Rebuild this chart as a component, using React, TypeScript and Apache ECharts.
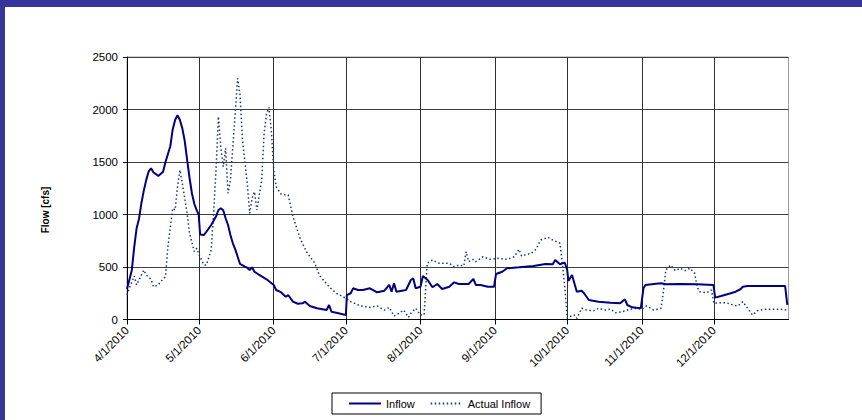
import React, { useEffect, useRef } from "react";
import * as echarts from "echarts";

// Day offsets counted from 4/1/2010
const tickLabels = ["4/1/2010", "5/1/2010", "6/1/2010", "7/1/2010", "8/1/2010", "9/1/2010", "10/1/2010", "11/1/2010", "12/1/2010"];

const inflowDays = [0, 2, 3, 4, 5, 6, 7, 8, 9, 10, 11, 12, 13, 15, 16, 18, 19, 20, 21, 22, 23, 24, 25, 26, 27, 28, 29, 29.8, 30.4, 32, 33, 35, 37, 38, 39, 40, 41, 42, 43, 44, 45, 46, 47, 49, 50, 51, 52, 53, 55, 58, 61, 62, 64, 66, 67, 69, 71, 73, 74, 76, 79, 83, 84, 85, 87, 91, 91.4, 93, 94, 96, 98, 101, 104, 107, 109, 110, 111, 112, 116, 118, 119, 120, 122, 123, 125, 127, 129, 131, 134, 136, 138, 142, 144, 145, 147, 150, 152.6, 153.4, 156, 158, 163, 169, 174, 177, 178, 180, 181, 182, 183, 183.5, 185, 187, 189, 190, 192, 196, 201, 205, 207, 208, 210, 213.6, 214.7, 215.5, 219, 222, 224, 230, 237, 243.8, 244.5, 247, 251, 253, 255, 256, 258, 266, 273.6, 274.5];
const inflowValues = [290, 470, 690, 870, 960, 1110, 1230, 1330, 1410, 1440, 1400, 1385, 1367, 1408, 1500, 1650, 1810, 1900, 1945, 1900, 1820, 1700, 1520, 1350, 1200, 1100, 1040, 1000, 810, 805, 836, 900, 980, 1043, 1060, 1040, 964, 900, 805, 726, 668, 598, 529, 503, 493, 471, 497, 455, 424, 383, 329, 281, 260, 217, 233, 170, 150, 154, 170, 129, 107, 90, 138, 74, 65, 43, 233, 250, 297, 281, 281, 297, 259, 274, 329, 265, 345, 265, 281, 376, 392, 297, 312, 414, 376, 307, 338, 290, 312, 354, 338, 338, 386, 329, 329, 312, 312, 433, 455, 488, 497, 510, 529, 526, 567, 526, 535, 541, 471, 367, 424, 265, 274, 250, 186, 170, 160, 154, 192, 138, 116, 107, 297, 329, 338, 345, 335, 338, 335, 329, 208, 224, 250, 265, 288, 312, 319, 319, 319, 140];

const actualDays = [0, 1, 3, 4, 5, 7, 8, 10, 11, 13, 14, 16, 17, 19, 20, 21, 22, 23, 25, 26, 28, 29, 30, 32, 33, 35, 36, 37, 38, 39, 40, 41, 42, 43, 44, 46, 47, 48, 50, 51, 52, 53, 54, 56, 57, 58, 59, 60, 61, 62, 64, 66, 67, 69, 72, 75, 78, 80, 84, 87, 91, 93, 97, 101, 104, 107, 109, 111, 113, 115, 117, 118, 120, 122, 123.5, 124.8, 127, 129, 130, 134, 136, 138, 140, 141, 142, 144, 145, 148, 151, 154, 158, 161, 163, 164, 168, 170, 172, 175, 177, 180, 181, 182, 183, 184, 186, 187, 189, 191, 194, 196, 199, 201, 203, 206, 209, 212, 214, 216, 219, 222, 223, 224, 226, 228, 230, 232, 234, 236, 237, 238, 241, 243, 244, 247, 249, 252, 254, 256, 258, 260, 262, 265, 269, 272, 274.5];
const actualValues = [233, 300, 414, 329, 376, 471, 424, 383, 312, 329, 360, 408, 693, 1059, 1043, 1265, 1424, 1297, 1011, 821, 646, 678, 614, 519, 519, 662, 1011, 1424, 1932, 1646, 1455, 1630, 1202, 1329, 1646, 2297, 2138, 1710, 1297, 1011, 1154, 1217, 1043, 1329, 1773, 1960, 2020, 1800, 1424, 1265, 1195, 1186, 1186, 979, 770, 630, 540, 420, 312, 250, 202, 170, 129, 116, 129, 90, 116, 33, 59, 90, 21, 59, 107, 43, 43, 535, 567, 541, 535, 535, 503, 519, 510, 646, 551, 573, 551, 598, 573, 583, 573, 598, 668, 605, 630, 668, 757, 783, 757, 726, 535, 312, 11, 27, 43, 11, 107, 90, 84, 107, 90, 100, 65, 74, 97, 107, 97, 129, 90, 107, 265, 471, 519, 465, 488, 465, 488, 440, 312, 265, 255, 281, 154, 160, 160, 138, 129, 170, 107, 43, 84, 97, 97, 97, 90];

const startDate = new Date(2010, 3, 1);
const DAY = 86400000;
const dayOf = (s: string) => {
  const [m, d, y] = s.split("/").map(Number);
  return Math.round((new Date(y, m - 1, d).getTime() - startDate.getTime()) / DAY);
};
const tickDays = tickLabels.map(dayOf);
const endDay = dayOf("1/1/2011");

const FONT = "Liberation Sans, Arial, sans-serif";

export default function App() {
  const ref = useRef<HTMLDivElement>(null);
  useEffect(() => {
    if (!ref.current) return;
    const chart = echarts.init(ref.current, undefined, { renderer: "svg" });
    const labelFor = (v: number) => {
      const i = tickDays.indexOf(Math.round(v));
      return i >= 0 ? tickLabels[i] : "";
    };
    chart.setOption({
      animation: false,
      backgroundColor: "#ffffff",
      textStyle: { fontFamily: FONT },
      graphic: [
        { type: "rect", left: 0, top: 0, shape: { width: 862, height: 7 }, style: { fill: "#35359b" }, z: 100 },
        { type: "rect", left: 0, top: 0, shape: { width: 5, height: 420 }, style: { fill: "#35359b" }, z: 100 },
        {
          type: "text",
          x: 45,
          y: 210,
          rotation: Math.PI / 2,
          style: {
            text: "Flow [cfs]",
            fontFamily: FONT,
            fontSize: 10,
            fontWeight: "bold",
            fill: "#000",
            align: "center",
            verticalAlign: "middle",
          },
        },
      ],
      grid: {
        left: 127,
        top: 57,
        right: 73.5,
        bottom: 100.5,
        show: true,
        borderColor: "#a0a0a0",
        borderWidth: 1,
        backgroundColor: "transparent",
      },
      legend: {
        left: 332,
        top: 393,
        padding: [5, 11, 5, 16],
        itemWidth: 32,
        itemHeight: 10,
        itemGap: 15,
        borderColor: "#000",
        borderWidth: 1,
        backgroundColor: "#fff",
        itemStyle: { opacity: 0, borderWidth: 0 },
        textStyle: { fontFamily: FONT, fontSize: 11, color: "#000" },
        data: ["Inflow", "Actual Inflow"],
      },
      xAxis: {
        type: "value",
        min: 0,
        max: endDay,
        axisLine: { show: true, lineStyle: { color: "#000", width: 1 } },
        axisTick: { show: true, length: 5, inside: false, lineStyle: { color: "#000" }, customValues: tickDays },
        axisLabel: {
          customValues: tickDays,
          rotate: 45,
          margin: 9,
          fontFamily: FONT,
          fontSize: 11.5,
          color: "#000",
          formatter: (v: number) => labelFor(v),
        },
        splitLine: { show: true, lineStyle: { color: "#303030", width: 1 } },
      },
      yAxis: {
        type: "value",
        min: 0,
        max: 2500,
        interval: 500,
        axisLine: { show: true, lineStyle: { color: "#000", width: 1 } },
        axisTick: { show: true, length: 4, inside: false, lineStyle: { color: "#000" } },
        axisLabel: { margin: 9, fontFamily: FONT, fontSize: 11.5, color: "#000", formatter: (v: number) => String(v) },
        splitLine: { show: true, lineStyle: { color: "#404040", width: 1 } },
      },
      series: [
        {
          name: "Inflow",
          type: "line",
          symbol: "none",
          data: inflowDays.map((d, i) => [d, inflowValues[i]]),
          lineStyle: { color: "#000080", width: 2 },
          itemStyle: { color: "#000080" },
          z: 3,
        },
        {
          name: "Actual Inflow",
          type: "line",
          symbol: "none",
          data: actualDays.map((d, i) => [d, actualValues[i]]),
          lineStyle: { color: "#1c3580", width: 1.5, type: [1.5, 2.5] },
          itemStyle: { color: "#1c3580" },
          z: 2,
        },
      ],
    });
    return () => chart.dispose();
  }, []);
  return (
    <div style={{ position: "fixed", left: 0, top: 0, width: 862, height: 420, background: "#fff" }}>
      <div ref={ref} style={{ width: 862, height: 420 }} />
    </div>
  );
}
